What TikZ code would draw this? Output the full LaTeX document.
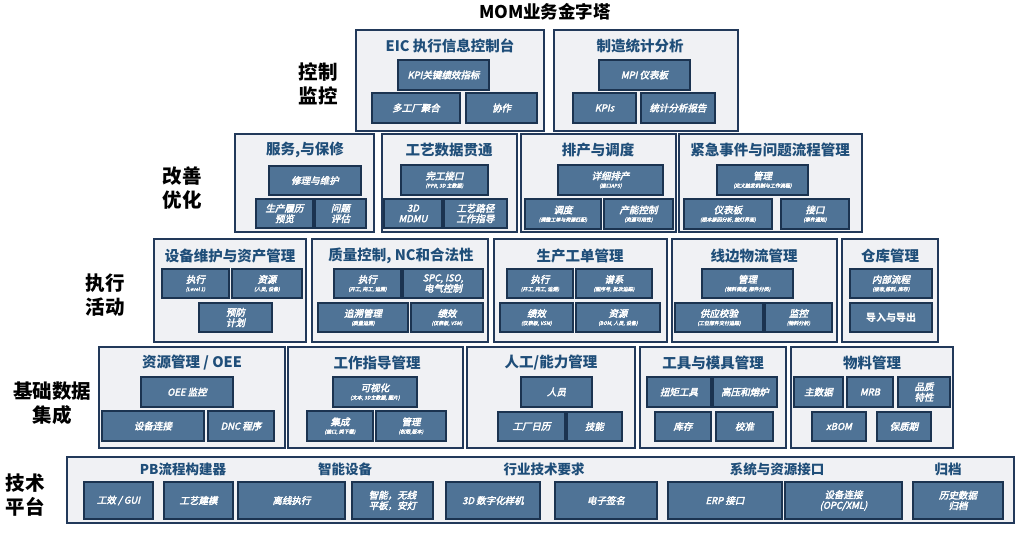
\documentclass[tikz,border=0pt]{standalone}
\usepackage{fontspec}
\setmainfont{Noto Sans CJK SC}
\newfontfamily\cjkit{Noto Sans CJK SC}[FakeSlant=0.22, FakeBold=3]
\definecolor{ofill}{HTML}{F0F1F4}
\definecolor{odraw}{HTML}{22395A}
\definecolor{ifill}{HTML}{4F7396}
\definecolor{idraw}{HTML}{1B3350}
\definecolor{hblue}{HTML}{1F4E79}
\tikzset{
 outer/.style={draw=odraw, fill=ofill, line width=1.6pt, inner sep=0pt},
 inner/.style={draw=idraw, fill=ifill, line width=1.2pt, inner sep=0pt, text=white, align=center, font=\cjkit\fontsize{9.5}{10.5}\selectfont},
 innerup/.style={inner, font=\bfseries\fontsize{10}{10}\selectfont},
 head/.style={text=hblue, font=\bfseries\fontsize{14.5}{14.5}\selectfont, inner sep=0pt},
 foot/.style={text=hblue, font=\bfseries\fontsize{13.5}{13.5}\selectfont, inner sep=0pt},
 side/.style={text=black, font=\bfseries\fontsize{19.5}{23.5}\selectfont, align=center, inner sep=0pt},
}
\newcommand\subt[1]{\\[-2.5pt]{\fontsize{5}{5}\selectfont #1}}
\newcommand\bx[7]{\pgfmathsetmacro\bxcx{(#3+#5)/2}\pgfmathsetmacro\bxcy{(#4+#6)/2}\pgfmathsetmacro\bxw{#5-#3}\pgfmathsetmacro\bxh{#6-#4}\node[#1,minimum width=\bxw pt,minimum height=\bxh pt] (#2) at (\bxcx,\bxcy) {#7};}
\begin{document}
\begin{tikzpicture}[x=1pt,y=-1pt]
\useasboundingbox[fill=white] (0,0) rectangle (1017,533);
\node[text=black, font=\bfseries\fontsize{17.5}{18}\selectfont, inner sep=0pt] (title) at (545,12) {MOM业务金字塔};
% side labels
\node[side] (l1) at (318,84) {控制\\监控};
\node[side] (l2) at (182,188) {改善\\优化};
\node[side] (l3) at (105,295) {执行\\活动};
\node[side] (l4) at (52,403) {基础数据\\集成};
\node[side] (l5) at (25,495) {技术\\平台};
% row 1
\bx{outer}{eic}{356}{30}{544}{131}{}
\node[head] (heic) at (450,46) {EIC 执行信息控制台};
\bx{inner}{kpi}{398}{60}{489}{90}{KPI关键绩效指标}
\bx{inner}{mfa}{372}{93}{460}{123}{多工厂聚合}
\bx{inner}{xz}{466}{93}{537}{123}{协作}
\bx{outer}{msa}{554}{30}{738}{131}{}
\node[head] (hmsa) at (640,46) {制造统计分析};
\bx{inner}{mpi}{599}{60}{690}{90}{MPI 仪表板}
\bx{inner}{kpis}{573}{93}{636}{123}{KPIs}
\bx{inner}{tjbg}{641}{93}{715}{123}{统计分析报告}
% row 2
\bx{outer}{fw}{235}{134}{374}{232}{}
\node[head] (hfw) at (305,150) {服务,与保修};
\bx{inner}{xlwh}{269}{166}{361}{195}{修理与维护}
\bx{inner}{scll}{256}{199}{313}{228}{生产履历\\预览}
\bx{inner}{wtpg}{315}{199}{366}{228}{问题\\评估}
\bx{outer}{gy}{382}{134}{517}{232}{}
\node[head] (hgy) at (449,150) {工艺数据贯通};
\bx{inner}{wgjk}{401}{165}{488}{195}{完工接口\subt{(PPR, 3D 主数据)}}
\bx{inner}{mdmu}{384}{199}{442}{228}{3D\\MDMU}
\bx{inner}{gylj}{444}{199}{507}{228}{工艺路径\\工作指导}
\bx{outer}{pc}{521}{134}{676}{232}{}
\node[head] (hpc) at (598,150) {排产与调度};
\bx{inner}{xxpc}{558}{165}{663}{195}{详细排产\subt{(接口APS)}}
\bx{inner}{dd}{525}{199}{601}{229}{调度\subt{(调整工单与资源匹配)}}
\bx{inner}{cnkz}{604}{199}{673}{229}{产能控制\subt{(资源可用性)}}
\bx{outer}{jj}{679}{134}{862}{232}{}
\node[head] (hjj) at (770,150) {紧急事件与问题流程管理};
\bx{inner}{jjgl}{717}{165}{808}{195}{管理\subt{(定义触发机制与工作流程)}}
\bx{inner}{ybb}{684}{199}{772}{229}{仪表板\subt{(根本原因分析, 按灯界面)}}
\bx{inner}{jk}{781}{199}{849}{229}{接口\subt{(事件通知)}}
% row 3
\bx{outer}{sb}{154}{239}{306}{342}{}
\node[head] (hsb) at (230,256) {设备维护与资产管理};
\bx{inner}{sbzx}{162}{269}{229}{298}{执行\subt{(Level 1)}}
\bx{inner}{sbzy}{232}{269}{302}{298}{资源\subt{(人员, 设备)}}
\bx{inner}{yfjh}{199}{303}{272}{332}{预防\\计划}
\bx{outer}{zl}{312}{239}{488}{342}{}
\node[head] (hzl) at (401,256) {质量控制, NC和合法性};
\bx{inner}{zlzx}{334}{269}{401}{298}{执行\subt{(开工, 完工, 追溯)}}
\bx{inner}{spc}{403}{269}{483}{298}{SPC, ISO,\\电气控制}
\bx{inner}{zsgl}{318}{303}{408}{332}{追溯管理\subt{(质量追溯)}}
\bx{inner}{zljx}{411}{303}{483}{332}{绩效\subt{(仪表板, VSM)}}
\bx{outer}{gd}{494}{239}{667}{342}{}
\node[head] (hgd) at (580,256) {生产工单管理};
\bx{inner}{gdzx}{507}{269}{573}{298}{执行\subt{(开工, 完工, 追溯)}}
\bx{inner}{px}{576}{269}{652}{298}{谱系\subt{(图序号, 批次追踪)}}
\bx{inner}{gdjx}{500}{303}{573}{332}{绩效\subt{(仪表板, VSM)}}
\bx{inner}{gdzy}{576}{303}{660}{332}{资源\subt{(BOM, 人员, 设备)}}
\bx{outer}{xb}{672}{239}{837}{342}{}
\node[head] (hxb) at (754,256) {线边物流管理};
\bx{inner}{xbgl}{702}{269}{793}{298}{管理\subt{(领料调度, 部件分类)}}
\bx{inner}{gyjy}{675}{303}{763}{332}{供应校验\subt{(工位部件交付追踪)}}
\bx{inner}{jkz}{765}{303}{832}{332}{监控\subt{(物料分析)}}
\bx{outer}{ck}{842}{239}{938}{342}{}
\node[head] (hck) at (890,256) {仓库管理};
\bx{inner}{nblc}{850}{269}{932}{298}{内部流程\subt{(接收,拣料, 库存)}}
\bx{innerup}{drdc}{850}{303}{932}{332}{导入与导出}
% row 4
\bx{outer}{zy}{99}{347}{285}{448}{}
\node[head] (hzy) at (192,363) {资源管理 / OEE};
\bx{inner}{oee}{141}{377}{233}{407}{OEE 监控}
\bx{inner}{sblj}{102}{411}{204}{441}{设备连接}
\bx{inner}{dnc}{208}{411}{274}{441}{DNC 程序}
\bx{outer}{zd}{288}{347}{463}{448}{}
\node[head] (hzd) at (377,363) {工作指导管理};
\bx{inner}{ksh}{333}{377}{417}{407}{可视化\subt{(文本, 3D主数据, 图片)}}
\bx{inner}{jc}{307}{411}{373}{441}{集成\subt{(接口, 类下载)}}
\bx{inner}{zdgl}{376}{411}{446}{441}{管理\subt{(权限,版本)}}
\bx{outer}{rg}{467}{347}{635}{448}{}
\node[head] (hrg) at (551,363) {人工/能力管理};
\bx{inner}{ry}{521}{377}{592}{407}{人员}
\bx{inner}{gcrl}{498}{412}{565}{441}{工厂日历}
\bx{inner}{jn}{567}{412}{622}{441}{技能}
\bx{outer}{gj}{640}{347}{786}{448}{}
\node[head] (hgj) at (713,363) {工具与模具管理};
\bx{inner}{nj}{647}{377}{711}{407}{扭矩工具}
\bx{inner}{gyrl}{713}{377}{777}{407}{高压和熔炉}
\bx{inner}{kc}{655}{412}{711}{441}{库存}
\bx{inner}{jz}{716}{412}{773}{441}{校准}
\bx{outer}{wl}{791}{347}{953}{448}{}
\node[head] (hwl) at (872,363) {物料管理};
\bx{inner}{zsj}{794}{377}{843}{407}{主数据}
\bx{inner}{mrb}{847}{377}{893}{407}{MRB}
\bx{inner}{pztx}{898}{377}{950}{407}{品质\\特性}
\bx{inner}{xbom}{812}{412}{866}{441}{xBOM}
\bx{inner}{bzq}{877}{412}{931}{441}{保质期}
% row 5
\bx{outer}{jspt}{67}{457}{1014}{523}{}
\node[foot] (f1) at (183,469) {PB流程构建器};
\node[foot] (f2) at (345,469) {智能设备};
\node[foot] (f3) at (544,469) {行业技术要求};
\node[foot] (f4) at (777,469) {系统与资源接口};
\node[foot] (f5) at (948,469) {归档};
\bx{inner}{gx}{84}{482}{153}{519}{工效 / GUI}
\bx{inner}{gyjm}{164}{482}{233}{519}{工艺建模}
\bx{inner}{lxzx}{238}{482}{345}{519}{离线执行}
\bx{inner}{znwx}{352}{482}{433}{519}{智能，无线\\平板，安灯}
\bx{inner}{sdyj}{446}{482}{540}{519}{3D 数字化样机}
\bx{inner}{dzqm}{555}{482}{657}{519}{电子签名}
\bx{inner}{erp}{668}{482}{782}{519}{ERP 接口}
\bx{inner}{opc}{785}{482}{902}{519}{设备连接\\(OPC/XML)}
\bx{inner}{lssj}{913}{482}{1003}{519}{历史数据\\归档}
\end{tikzpicture}
\end{document}
